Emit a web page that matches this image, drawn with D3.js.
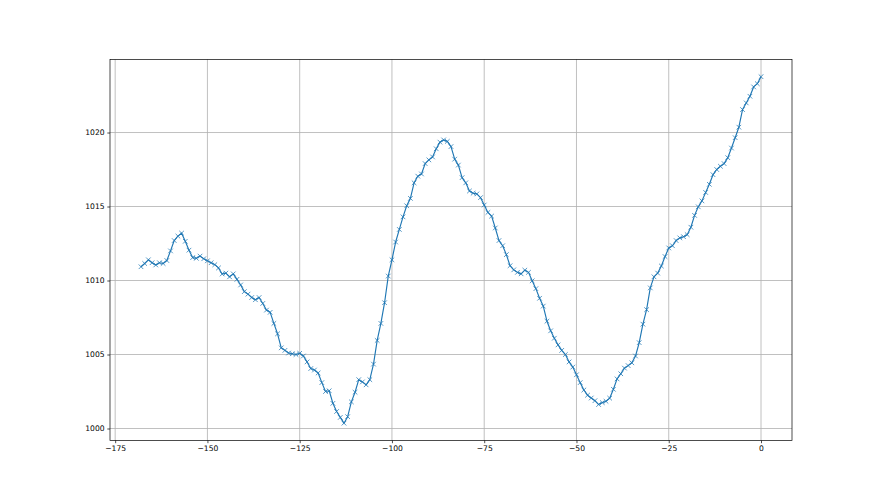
<!DOCTYPE html>
<html>
<head>
<meta charset="utf-8">
<script src="https://cdn.jsdelivr.net/npm/d3@7"></script>
<style>
  html, body { margin: 0; padding: 0; background: #fff; }
  svg { display: block; }
  .tick text { font-family: "DejaVu Sans", sans-serif; font-size: 7.6px; fill: #000; }
</style>
</head>
<body>
<svg width="880" height="495"></svg>
<script>
// uren terug in de tijd (laatste week)
const hours = [
  -168, -167, -166, -165, -164, -163, -162, -161, -160, -159, -158, -157, -156, -155,
  -154, -153, -152, -151, -150, -149, -148, -147, -146, -145, -144, -143, -142, -141,
  -140, -139, -138, -137, -136, -135, -134, -133, -132, -131, -130, -129, -128, -127,
  -126, -125, -124, -123, -122, -121, -120, -119, -118, -117, -116, -115, -114, -113,
  -112, -111, -110, -109, -108, -107, -106, -105, -104, -103, -102, -101, -100, -99,
  -98, -97, -96, -95, -94, -93, -92, -91, -90, -89, -88, -87, -86, -85,
  -84, -83, -82, -81, -80, -79, -78, -77, -76, -75, -74, -73, -72, -71,
  -70, -69, -68, -67, -66, -65, -64, -63, -62, -61, -60, -59, -58, -57,
  -56, -55, -54, -53, -52, -51, -50, -49, -48, -47, -46, -45, -44, -43,
  -42, -41, -40, -39, -38, -37, -36, -35, -34, -33, -32, -31, -30, -29,
  -28, -27, -26, -25, -24, -23, -22, -21, -20, -19, -18, -17, -16, -15,
  -14, -13, -12, -11, -10, -9, -8, -7, -6, -5, -4, -3, -2, -1, 0
]

// luchtdruk (hPa)
const pressure = [
  1010.93, 1011.15, 1011.40, 1011.20, 1011.05, 1011.20, 1011.15, 1011.35, 1012.00, 1012.70, 1013.00, 1013.20, 1012.65, 1012.05,
  1011.55, 1011.50, 1011.65, 1011.47, 1011.33, 1011.20, 1011.07, 1010.85, 1010.44, 1010.50, 1010.25, 1010.45, 1010.08, 1009.70,
  1009.25, 1009.08, 1008.85, 1008.70, 1008.85, 1008.45, 1008.00, 1007.85, 1007.10, 1006.40, 1005.45, 1005.28, 1005.10, 1005.05,
  1005.00, 1005.08, 1004.90, 1004.50, 1004.05, 1003.95, 1003.75, 1003.10, 1002.50, 1002.55, 1001.70, 1001.15, 1000.75, 1000.36,
  1000.80, 1001.80, 1002.45, 1003.30, 1003.15, 1002.95, 1003.30, 1004.35, 1005.95, 1007.10, 1008.50, 1010.30, 1011.40, 1012.60,
  1013.45, 1014.30, 1015.05, 1015.55, 1016.60, 1017.05, 1017.20, 1017.90, 1018.15, 1018.35, 1018.90, 1019.35, 1019.50, 1019.40,
  1019.05, 1018.20, 1017.80, 1016.95, 1016.60, 1016.05, 1015.90, 1015.85, 1015.60, 1015.10, 1014.60, 1014.35, 1013.55, 1012.70,
  1012.35, 1011.75, 1011.00, 1010.72, 1010.55, 1010.45, 1010.70, 1010.55, 1009.98, 1009.45, 1008.80, 1008.27, 1007.25, 1006.60,
  1006.10, 1005.65, 1005.28, 1005.00, 1004.50, 1004.15, 1003.63, 1003.10, 1002.60, 1002.25, 1002.06, 1001.88, 1001.62, 1001.75,
  1001.84, 1002.05, 1002.65, 1003.35, 1003.70, 1004.08, 1004.25, 1004.44, 1004.90, 1005.80, 1007.05, 1008.03, 1009.50, 1010.25,
  1010.50, 1010.98, 1011.62, 1012.20, 1012.35, 1012.70, 1012.88, 1012.96, 1013.10, 1013.60, 1014.40, 1014.98, 1015.38, 1015.95,
  1016.50, 1017.15, 1017.50, 1017.72, 1017.90, 1018.30, 1018.95, 1019.65, 1020.36, 1021.55, 1022.00, 1022.45, 1023.08, 1023.30, 1023.77
]

const xTicks = [-175, -150, -125, -100, -75, -50, -25, 0]
const yTicks = [1000, 1005, 1010, 1015, 1020]

const data = hours.map((h, i) => ({ hour: h, value: pressure[i] }))

const svg = d3.select('svg')
const margin = { top: 59.4, right: 88, bottom: 54.5, left: 110 }
const width = 880 - margin.left - margin.right
const height = 495 - margin.top - margin.bottom

// matplotlib-achtige marge van 5%
function padded(ext) {
    const pad = (ext[1] - ext[0]) * 0.05
    return [ext[0] - pad, ext[1] + pad]
}

const x = d3.scaleLinear().domain(padded(d3.extent(hours))).range([0, width])
const y = d3.scaleLinear().domain(padded(d3.extent(pressure))).range([height, 0])

const g = svg.append('g').attr('transform', `translate(${margin.left},${margin.top})`)

// grid
g.append('g').selectAll('line').data(xTicks).enter().append('line')
    .attr('x1', d => x(d)).attr('x2', d => x(d))
    .attr('y1', 0).attr('y2', height)
    .attr('stroke', '#b0b0b0').attr('stroke-width', 0.8)
g.append('g').selectAll('line').data(yTicks).enter().append('line')
    .attr('x1', 0).attr('x2', width)
    .attr('y1', d => y(d)).attr('y2', d => y(d))
    .attr('stroke', '#b0b0b0').attr('stroke-width', 0.8)

// lijn
const line = d3.line().x(d => x(d.hour)).y(d => y(d.value))
g.append('path').datum(data)
    .attr('d', line)
    .attr('fill', 'none')
    .attr('stroke', '#1f77b4')
    .attr('stroke-width', 1.15)
    .attr('stroke-linejoin', 'round')

// x markers
const m = 2.3
g.append('g').selectAll('path').data(data).enter().append('path')
    .attr('d', d => {
        const cx = x(d.hour), cy = y(d.value)
        return `M${cx - m},${cy - m}L${cx + m},${cy + m}M${cx - m},${cy + m}L${cx + m},${cy - m}`
    })
    .attr('stroke', '#1f77b4')
    .attr('stroke-width', 0.76)
    .attr('fill', 'none')

// assen
const xAxis = d3.axisBottom(x).tickValues(xTicks).tickSize(2.7).tickPadding(2.7).tickFormat(d3.format('d'))
const yAxis = d3.axisLeft(y).tickValues(yTicks).tickSize(2.7).tickPadding(2.7).tickFormat(d3.format('d'))

const gx = g.append('g').attr('transform', `translate(0,${height})`).call(xAxis)
const gy = g.append('g').call(yAxis)
;[gx, gy].forEach(a => {
    a.select('.domain').remove()
    a.selectAll('.tick line').attr('stroke', '#000').attr('stroke-width', 0.7)
})

// kader
g.append('rect')
    .attr('width', width).attr('height', height)
    .attr('fill', 'none').attr('stroke', '#000').attr('stroke-width', 0.7)
</script>
</body>
</html>
